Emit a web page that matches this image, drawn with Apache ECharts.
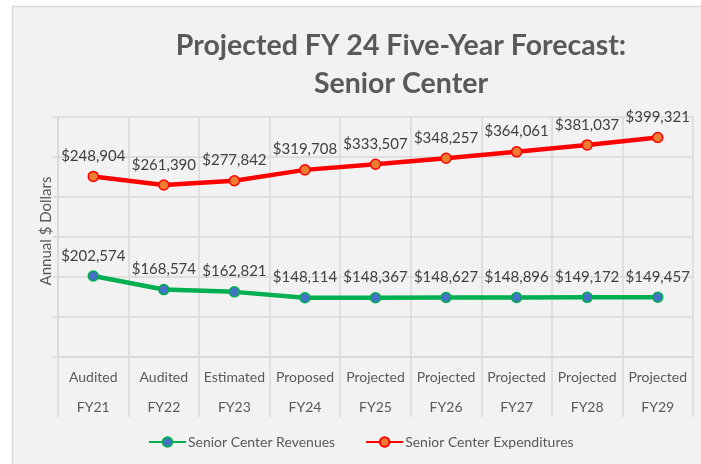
<!DOCTYPE html>
<html>
<head>
<meta charset="utf-8">
<script src="https://cdn.jsdelivr.net/npm/echarts@6/dist/echarts.min.js"></script>
<style>html,body{margin:0;padding:0;background:#fff;}#c{width:701px;height:464px;}</style>
</head>
<body>
<div id="c"></div>
<script>
const categories = ['Audited\nFY21','Audited\nFY22','Estimated\nFY23','Proposed\nFY24','Projected\nFY25','Projected\nFY26','Projected\nFY27','Projected\nFY28','Projected\nFY29'];
const revenues = [202574,168574,162821,148114,148367,148627,148896,149172,149457];
const expenditures = [248904,261390,277842,319708,333507,348257,364061,381037,399321];
const titleText = 'Projected FY 24 Five-Year Forecast:\nSenior Center';
const yAxisName = 'Annual $ Dollars';

const FONT = 'Lato, "Open Sans", sans-serif';
const fmt = p => '$' + p.value.toLocaleString('en-US');
const chart = echarts.init(document.getElementById('c'));
chart.setOption({
  backgroundColor: '#ffffff',
  animation: false,
  textStyle: { fontFamily: FONT },
  graphic: [{
    type: 'rect', z: -100, silent: true,
    shape: { x: 12.5, y: 6.5, width: 700, height: 480 },
    style: { fill: '#f2f2f2', stroke: '#d9d9d9', lineWidth: 1.5 }
  }],
  title: {
    text: titleText,
    left: 396, top: 22, textAlign: 'center',
    textStyle: { fontFamily: FONT, fontSize: 28.5, fontWeight: 'bold', color: '#595959', lineHeight: 38 }
  },
  legend: {
    left: 143, top: 430,
    itemWidth: 37, itemHeight: 12, itemGap: 30,
    textStyle: { fontFamily: FONT, fontSize: 14, color: '#595959', padding: [0,0,0,-3] },
    data: ['Senior Center Revenues','Senior Center Expenditures']
  },
  grid: { left: 58, right: 8, top: 117, bottom: 107 },
  xAxis: {
    type: 'category', data: categories, boundaryGap: true,
    axisLine: { lineStyle: { color: '#d9d9d9', width: 1.5 } },
    axisTick: { show: true, length: 60, lineStyle: { color: '#d9d9d9', width: 1.5 } },
    splitLine: { show: true, lineStyle: { color: '#d9d9d9', width: 1.5 } },
    axisLabel: { fontFamily: FONT, fontSize: 14, color: '#595959', lineHeight: 30, margin: 5, interval: 0 }
  },
  yAxis: {
    type: 'value', min: 0, max: 600000, interval: 100000,
    name: yAxisName, nameLocation: 'middle', nameGap: 4, nameRotate: 90,
    nameTextStyle: { fontFamily: FONT, fontSize: 15, color: '#595959', padding: [0,0,0,12] },
    axisLine: { show: true, lineStyle: { color: '#d9d9d9', width: 1.5 } },
    axisTick: { show: true, length: 5, lineStyle: { color: '#d9d9d9', width: 1.5 } },
    axisLabel: { show: false },
    splitLine: { show: true, lineStyle: { color: '#d9d9d9', width: 1.5 } }
  },
  series: [{
    name: 'Senior Center Revenues', type: 'line', stack: 'total', data: revenues,
    symbol: 'circle', symbolSize: 10,
    lineStyle: { color: '#00b050', width: 4.5 },
    itemStyle: { color: '#4472c4', borderColor: '#00b050', borderWidth: 1.5 },
    label: { show: true, position: 'top', distance: 7, formatter: fmt, fontFamily: FONT, fontSize: 15, color: '#404040' }
  },{
    name: 'Senior Center Expenditures', type: 'line', stack: 'total', data: expenditures,
    symbol: 'circle', symbolSize: 10,
    lineStyle: { color: '#ff0000', width: 4.5 },
    itemStyle: { color: '#ed7d31', borderColor: '#ff0000', borderWidth: 1.5 },
    label: { show: true, position: 'top', distance: 7, formatter: fmt, fontFamily: FONT, fontSize: 15, color: '#404040' }
  }]
});
</script>
</body>
</html>
